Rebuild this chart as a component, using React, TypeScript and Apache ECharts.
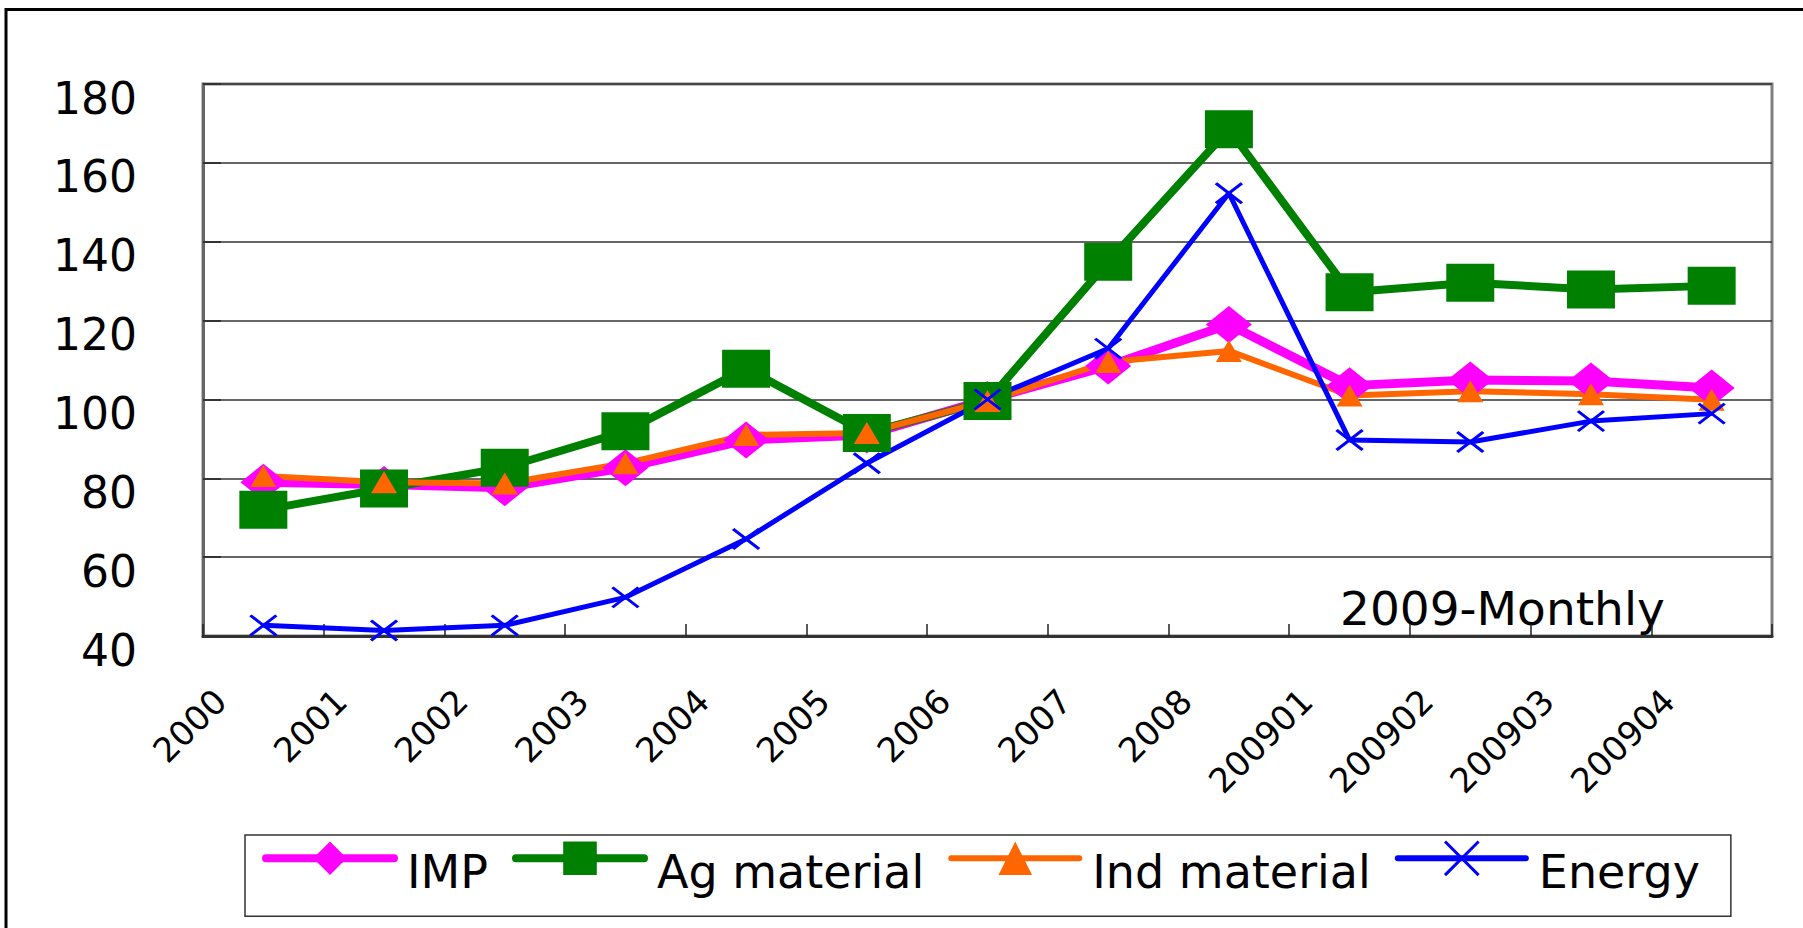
import React, { useEffect, useRef } from "react";
import * as echarts from "echarts";

const categories = ["2000", "2001", "2002", "2003", "2004", "2005", "2006", "2007", "2008", "200901", "200902", "200903", "200904"];
const impValues = [79.0, 78.4, 77.6, 82.7, 89.7, 91.0, 100.0, 108.5, 119.0, 103.5, 104.9, 104.7, 102.9];
const agValues = [72.0, 77.4, 82.7, 91.9, 107.8, 91.5, 99.6, 134.9, 168.5, 127.2, 129.6, 127.9, 128.8];
const indValues = [80.6, 79.0, 78.7, 83.8, 91.0, 91.5, 99.6, 109.5, 112.3, 101.0, 102.1, 101.3, 99.9];
const energyValues = [42.7, 41.4, 42.7, 49.8, 64.6, 83.8, 100.0, 112.9, 152.3, 89.7, 89.2, 94.5, 96.4];
const yTicks = { min: 40, max: 180, interval: 20 };
const annotation = "2009-Monthly";

const FONT = "DejaVu Sans";

export default function App() {
  const ref = useRef<HTMLDivElement>(null);
  useEffect(() => {
    document.body.style.margin = "0";
    const chart = echarts.init(ref.current!, null, { renderer: "svg" });
    const xSymbol = "path://M0,0L20,17M20,0L0,17";
    chart.setOption({
      animation: false,
      backgroundColor: "#ffffff",
      grid: {
        left: 203,
        right: 31,
        top: 84,
        bottom: 292,
        show: true,
        borderColor: "#808080",
        borderWidth: 3,
        containLabel: false,
      },
      legend: {
        left: 245,
        top: 835,
        orient: "horizontal",
        itemWidth: 128,
        itemHeight: 42,
        itemGap: 24,
        padding: [5, 31, 21, 17],
        borderColor: "#333333",
        borderWidth: 1.5,
        formatter: "{t|{name}}",
        textStyle: {
          fontSize: 46,
          fontFamily: FONT,
          color: "#000",
          rich: {
            t: { fontSize: 46, fontFamily: FONT, color: "#000", padding: [28, 0, 0, 8] },
          },
        },
        data: [
          { name: "IMP", lineStyle: { width: 8, cap: "round" }, textStyle: { width: 95 } },
          { name: "Ag material", lineStyle: { width: 8, cap: "round" } },
          { name: "Ind material", lineStyle: { width: 6, cap: "round" } },
          { name: "Energy", lineStyle: { width: 6, cap: "round" }, itemStyle: { borderWidth: 3 } },
        ],
      },
      xAxis: {
        type: "category",
        data: categories,
        boundaryGap: true,
        axisLine: { lineStyle: { color: "#333333", width: 3 } },
        axisTick: { show: true, inside: true, length: 12, lineStyle: { color: "#222", width: 1.5 } },
        axisLabel: {
          rotate: 45,
          interval: 0,
          fontSize: 34,
          fontFamily: FONT,
          color: "#000",
          margin: 16,
          padding: [0, 61, 0, 0],
        },
        splitLine: { show: false },
      },
      yAxis: {
        type: "value",
        min: yTicks.min,
        max: yTicks.max,
        interval: yTicks.interval,
        axisLine: { show: true, lineStyle: { color: "#666666", width: 3 } },
        axisTick: { show: true, inside: true, length: 18, lineStyle: { color: "#333", width: 2 } },
        axisLabel: {
          margin: 66,
          formatter: "{v|{value}}",
          rich: {
            v: { fontSize: 44, fontFamily: FONT, color: "#000", padding: [28, 0, 0, 0] },
          },
        },
        splitLine: { show: true, lineStyle: { color: "#333333", width: 1.5 } },
      },
      graphic: [
        {
          type: "rect",
          shape: { x: 6, y: 9.5, width: 1820, height: 960 },
          style: { fill: "none", stroke: "#000", lineWidth: 3 },
          silent: true,
        },
        {
          type: "text",
          x: 1340,
          y: 608,
          style: {
            text: annotation,
            fontSize: 47,
            fontFamily: FONT,
            fill: "#000",
            align: "left",
            verticalAlign: "middle",
          },
        },
      ],
      series: [
        {
          name: "IMP",
          type: "line",
          data: impValues,
          color: "#FF00FF",
          symbol: "diamond",
          symbolSize: [46, 37],
          lineStyle: { width: 9, color: "#FF00FF" },
          itemStyle: { color: "#FF00FF" },
        },
        {
          name: "Ag material",
          type: "line",
          data: agValues,
          color: "#008000",
          symbol: "rect",
          symbolSize: [48, 38],
          lineStyle: { width: 8, color: "#008000" },
          itemStyle: { color: "#008000" },
        },
        {
          name: "Ind material",
          type: "line",
          data: indValues,
          color: "#FF6600",
          symbol: "triangle",
          symbolSize: [26, 22],
          lineStyle: { width: 6, color: "#FF6600" },
          itemStyle: { color: "#FF6600" },
        },
        {
          name: "Energy",
          type: "line",
          data: energyValues,
          color: "#0000FF",
          symbol: xSymbol,
          symbolSize: [26, 20],
          lineStyle: { width: 5, color: "#0000FF" },
          itemStyle: { color: "#0000FF", borderColor: "#0000FF", borderWidth: 3 },
        },
      ],
    });
    return () => chart.dispose();
  }, []);
  return (
    <div
      ref={ref}
      style={{ position: "absolute", left: 0, top: 0, width: 1803, height: 928, background: "#fff" }}
    />
  );
}
